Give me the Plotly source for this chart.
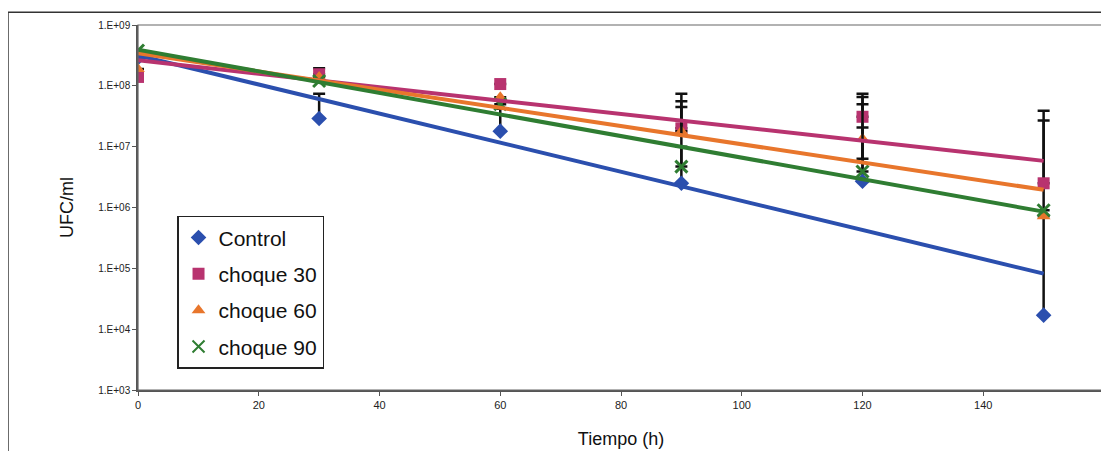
import numpy as np
import plotly.graph_objects as go

# ---- data ----
tiempo = [0, 30, 60, 90, 120, 150]

control   = [2.9e8, 2.9e7, 1.8e7, 2.5e6, 2.7e6, 1.7e4]
choque30  = [1.4e8, 1.55e8, 1.07e8, 2.0e7, 3.1e7, 2.5e6]
choque60  = [1.9e8, 1.4e8, 6.5e7, 1.8e7, 1.35e7, 7.2e5]
choque90  = [3.8e8, 1.2e8, 5.0e7, 4.7e6, 3.9e6, 9.0e5]

# upper / lower error values (UFC/ml)
control_err_up   = [0, 4.5e7, 2.4e7, 7.5e6, 6.3e7, 2.7e7]
control_err_dn   = [0, 0, 0, 0, 0, 0]
choque30_err_up  = [0, 4.0e7, 0, 5.4e7, 4.3e7, 3.65e7]
choque30_err_dn  = [0, 0, 0, 0, 0, 0]
choque60_err_up  = [0, 0, 0, 3.8e7, 7.2e6, 0]
choque60_err_dn  = [0, 0, 0, 0, 7.2e6, 0]
choque90_err_up  = [0, 0, 0, 4.03e7, 4.6e7, 0]
choque90_err_dn  = [0, 0, 0, 0, 0, 0]

series_names = ["Control", "choque 30", "choque 60", "choque 90"]
ytick_vals = [1e3, 1e4, 1e5, 1e6, 1e7, 1e8, 1e9]
ytick_text = ["1.E+03", "1.E+04", "1.E+05", "1.E+06", "1.E+07", "1.E+08", "1.E+09"]
xtick_vals = [0, 20, 40, 60, 80, 100, 120, 140, 160]

colors = ["#2b4fae", "#b8336f", "#e8762c", "#2f7d32"]
symbols = ["diamond", "square", "triangle-up", "x-thin-open"]

values = [control, choque30, choque60, choque90]
errs_up = [control_err_up, choque30_err_up, choque60_err_up, choque90_err_up]
errs_dn = [control_err_dn, choque30_err_dn, choque60_err_dn, choque90_err_dn]

FONT = "Arial, Liberation Sans, sans-serif"

fig = go.Figure()

# markers with error bars
for i, (name, vals) in enumerate(zip(series_names, values)):
    marker = dict(color=colors[i], size=12, symbol=symbols[i])
    if symbols[i] == "x-thin-open":
        marker = dict(color=colors[i], size=12, symbol=symbols[i],
                      line=dict(color=colors[i], width=3))
    fig.add_trace(go.Scatter(
        x=tiempo, y=vals, mode="markers", name=name,
        legendgroup=name, marker=marker,
        error_y=dict(type="data", symmetric=False, array=errs_up[i],
                     arrayminus=errs_dn[i], color="#111111",
                     thickness=2.5, width=6),
    ))

# exponential trend lines (least squares in log space)
for i, (name, vals) in enumerate(zip(series_names, values)):
    slope, intercept = np.polyfit(tiempo, np.log10(vals), 1)
    fit = [10 ** (intercept + slope * t) for t in tiempo]
    fig.add_trace(go.Scatter(
        x=tiempo, y=fit, mode="lines", showlegend=False,
        legendgroup=name, line=dict(color=colors[i], width=4),
        hoverinfo="skip",
    ))

# outer chart border
fig.add_shape(type="rect", xref="paper", yref="paper",
              x0=-0.1346, x1=1.05, y0=-0.3, y1=1.035,
              line=dict(color="#333333", width=1.5), fillcolor="rgba(0,0,0,0)")
# plot area border
fig.add_shape(type="rect", xref="paper", yref="paper",
              x0=0, x1=1, y0=0, y1=1,
              line=dict(color="#666666", width=1.2), fillcolor="rgba(0,0,0,0)")

fig.update_layout(
    width=1101, height=443,
    margin=dict(l=130, r=5, t=17, b=57),
    paper_bgcolor="white", plot_bgcolor="white",
    font=dict(family=FONT, color="#111111"),
    legend=dict(
        x=0.0404, y=0.477, xanchor="left", yanchor="top",
        bordercolor="#222222", borderwidth=1.5, bgcolor="white",
        font=dict(size=21, family=FONT, color="#111111"),
        tracegroupgap=6, traceorder="grouped", itemsizing="constant",
    ),
    xaxis=dict(
        range=[0, 160], tickvals=xtick_vals, ticks="outside", ticklen=4,
        tickcolor="#555555", showgrid=False, zeroline=False,
        showline=True, linecolor="#555555", linewidth=1.5,
        tickfont=dict(size=11, family=FONT, color="#222222"),
        title=dict(text="Tiempo (h)", font=dict(size=18, family=FONT, color="#111111"),
                   standoff=22),
    ),
    yaxis=dict(
        type="log", range=[3, 9], tickvals=ytick_vals, ticktext=ytick_text,
        ticks="outside", ticklen=4, tickcolor="#555555",
        showgrid=False, zeroline=False,
        showline=True, linecolor="#555555", linewidth=1.5,
        tickfont=dict(size=10, family=FONT, color="#222222"),
        title=dict(text="UFC/ml", font=dict(size=18, family=FONT, color="#111111"),
                   standoff=20),
    ),
)

fig.write_html("out.html")
